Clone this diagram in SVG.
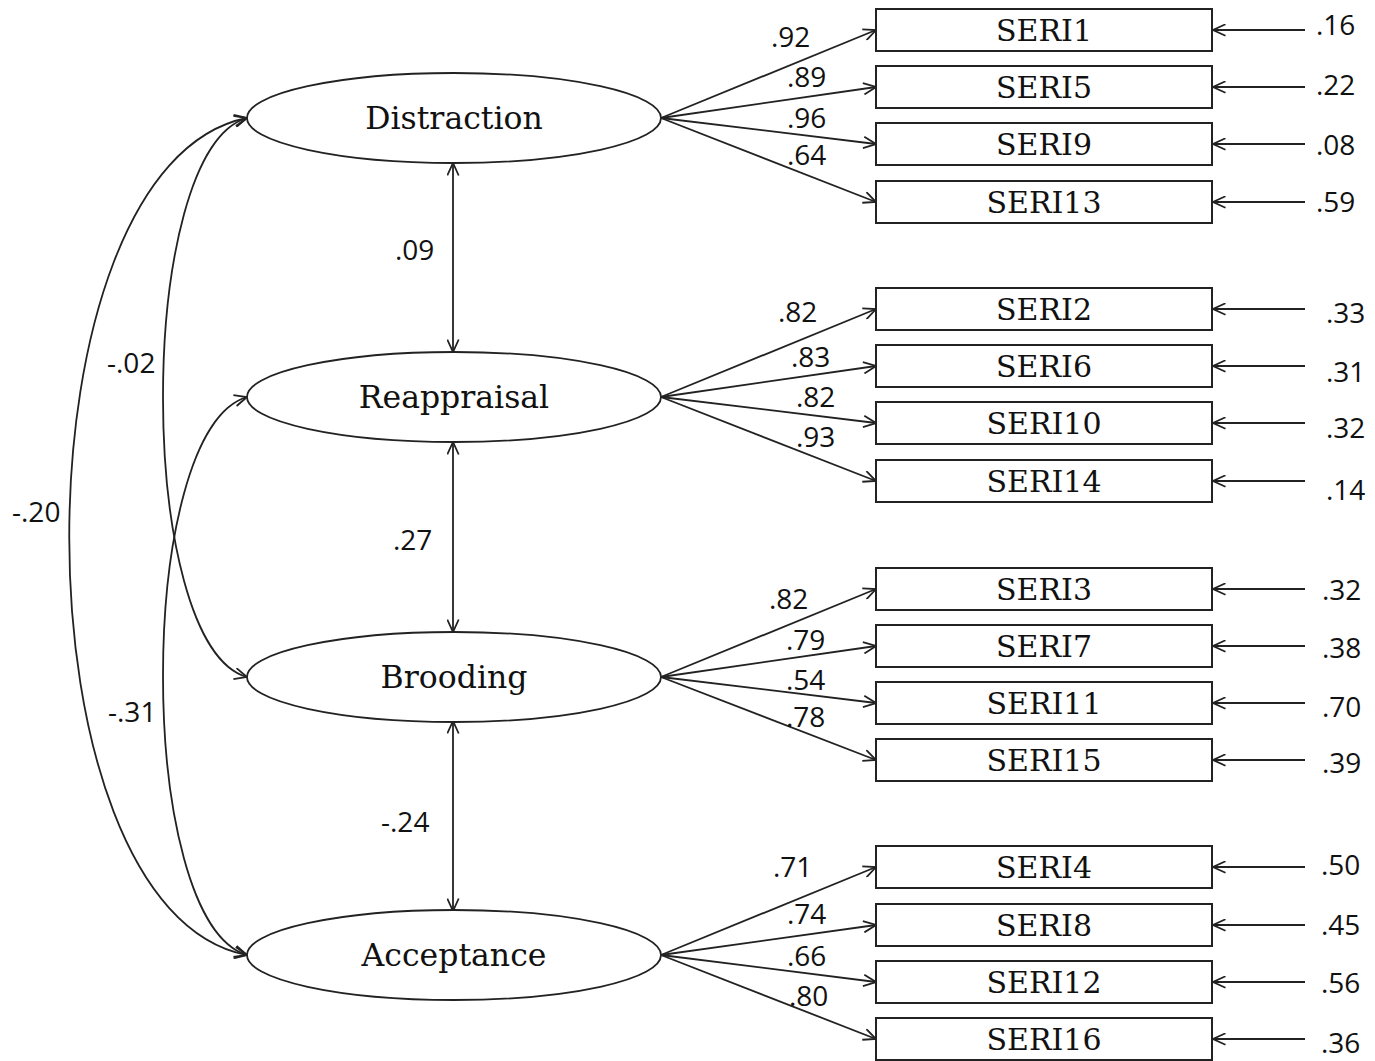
<svg xmlns="http://www.w3.org/2000/svg" width="1375" height="1061" viewBox="0 0 1375 1061">
<style>
  .ln { fill: none; stroke: #222; stroke-width: 1.8; }
  .arr { marker-end: url(#ah); }
  .dbl { marker-start: url(#ah); marker-end: url(#ah); }
  .lat { fill: #fff; stroke: #222; stroke-width: 1.8; }
  .box { fill: #fff; stroke: #222; stroke-width: 2; }
  .lname { font-family: "DejaVu Serif", "Liberation Serif", serif; font-size: 31.5px; fill: #111; text-anchor: middle; }
  .bname { font-family: "DejaVu Serif", "Liberation Serif", serif; font-size: 30px; fill: #111; text-anchor: middle; }
  .num { font-family: "Open Sans", "Liberation Sans", sans-serif; font-size: 28px; fill: #111; }
</style>
<defs>
  <marker id="ah" viewBox="0 0 14 13" refX="13.5" refY="6.5" markerWidth="14" markerHeight="13" markerUnits="userSpaceOnUse" orient="auto-start-reverse">
    <path d="M1,0.8 L13.5,6.5 L1,12.2" fill="none" stroke="#222" stroke-width="1.8"/>
  </marker>
</defs>
<rect width="1375" height="1061" fill="#fff"/>

<g id="connectors">
  <path class="ln dbl" d="M247,118 C135,150 135,645 247,677"/>
  <path class="ln dbl" d="M247,118 C10,165 10,910 247,955"/>
  <path class="ln dbl" d="M247,397 C135,430 135,922 247,955"/>
  <line class="ln dbl" x1="453" y1="163" x2="453" y2="352"/>
  <line class="ln dbl" x1="453" y1="442" x2="453" y2="632"/>
  <line class="ln dbl" x1="453" y1="721" x2="453" y2="911"/>
  <line class="ln arr" x1="661" y1="118" x2="876" y2="30"/>
  <line class="ln arr" x1="661" y1="118" x2="876" y2="87"/>
  <line class="ln arr" x1="661" y1="118" x2="876" y2="144"/>
  <line class="ln arr" x1="661" y1="118" x2="876" y2="202"/>
  <line class="ln arr" x1="661" y1="397" x2="876" y2="309"/>
  <line class="ln arr" x1="661" y1="397" x2="876" y2="366"/>
  <line class="ln arr" x1="661" y1="397" x2="876" y2="423"/>
  <line class="ln arr" x1="661" y1="397" x2="876" y2="481"/>
  <line class="ln arr" x1="661" y1="677" x2="876" y2="589"/>
  <line class="ln arr" x1="661" y1="677" x2="876" y2="646"/>
  <line class="ln arr" x1="661" y1="677" x2="876" y2="703"/>
  <line class="ln arr" x1="661" y1="677" x2="876" y2="760"/>
  <line class="ln arr" x1="661" y1="955" x2="876" y2="867"/>
  <line class="ln arr" x1="661" y1="955" x2="876" y2="925"/>
  <line class="ln arr" x1="661" y1="955" x2="876" y2="982"/>
  <line class="ln arr" x1="661" y1="955" x2="876" y2="1039"/>
  <line class="ln arr" x1="1305" y1="30" x2="1213" y2="30"/>
  <line class="ln arr" x1="1305" y1="87" x2="1213" y2="87"/>
  <line class="ln arr" x1="1305" y1="144" x2="1213" y2="144"/>
  <line class="ln arr" x1="1305" y1="202" x2="1213" y2="202"/>
  <line class="ln arr" x1="1305" y1="309" x2="1213" y2="309"/>
  <line class="ln arr" x1="1305" y1="366" x2="1213" y2="366"/>
  <line class="ln arr" x1="1305" y1="423" x2="1213" y2="423"/>
  <line class="ln arr" x1="1305" y1="481" x2="1213" y2="481"/>
  <line class="ln arr" x1="1305" y1="589" x2="1213" y2="589"/>
  <line class="ln arr" x1="1305" y1="646" x2="1213" y2="646"/>
  <line class="ln arr" x1="1305" y1="703" x2="1213" y2="703"/>
  <line class="ln arr" x1="1305" y1="760" x2="1213" y2="760"/>
  <line class="ln arr" x1="1305" y1="867" x2="1213" y2="867"/>
  <line class="ln arr" x1="1305" y1="925" x2="1213" y2="925"/>
  <line class="ln arr" x1="1305" y1="982" x2="1213" y2="982"/>
  <line class="ln arr" x1="1305" y1="1039" x2="1213" y2="1039"/>
</g>

<g id="connector-labels">
  <text class="num" x="107" y="373">-.02</text>
  <text class="num" x="12" y="522">-.20</text>
  <text class="num" x="108" y="722">-.31</text>
  <text class="num" x="395" y="260">.09</text>
  <text class="num" x="393" y="550">.27</text>
  <text class="num" x="381" y="832">-.24</text>

  <text class="num" x="771" y="47">.92</text>
  <text class="num" x="787" y="87">.89</text>
  <text class="num" x="787" y="128">.96</text>
  <text class="num" x="787" y="165">.64</text>
  <text class="num" x="778" y="322">.82</text>
  <text class="num" x="791" y="367">.83</text>
  <text class="num" x="796" y="407">.82</text>
  <text class="num" x="796" y="447">.93</text>
  <text class="num" x="769" y="609">.82</text>
  <text class="num" x="786" y="650">.79</text>
  <text class="num" x="786" y="690">.54</text>
  <text class="num" x="786" y="727">.78</text>
  <text class="num" x="773" y="877">.71</text>
  <text class="num" x="787" y="924">.74</text>
  <text class="num" x="787" y="966">.66</text>
  <text class="num" x="789" y="1006">.80</text>

  <text class="num" x="1316" y="35">.16</text>
  <text class="num" x="1316" y="95">.22</text>
  <text class="num" x="1316" y="155">.08</text>
  <text class="num" x="1316" y="212">.59</text>
  <text class="num" x="1326" y="323">.33</text>
  <text class="num" x="1326" y="382">.31</text>
  <text class="num" x="1326" y="438">.32</text>
  <text class="num" x="1326" y="500">.14</text>
  <text class="num" x="1322" y="600">.32</text>
  <text class="num" x="1322" y="658">.38</text>
  <text class="num" x="1322" y="717">.70</text>
  <text class="num" x="1322" y="773">.39</text>
  <text class="num" x="1321" y="875">.50</text>
  <text class="num" x="1321" y="935">.45</text>
  <text class="num" x="1321" y="993">.56</text>
  <text class="num" x="1321" y="1053">.36</text>
</g>

<g id="distraction"><ellipse class="lat" cx="454" cy="118" rx="207" ry="45"/><text class="lname" x="454" y="129">Distraction</text></g>
<g id="reappraisal"><ellipse class="lat" cx="454" cy="397" rx="207" ry="45"/><text class="lname" x="454" y="408">Reappraisal</text></g>
<g id="brooding"><ellipse class="lat" cx="454" cy="677" rx="207" ry="45"/><text class="lname" x="454" y="688">Brooding</text></g>
<g id="acceptance"><ellipse class="lat" cx="454" cy="955" rx="207" ry="45"/><text class="lname" x="454" y="966">Acceptance</text></g>

<g id="seri1"><rect class="box" x="876" y="9" width="336" height="42"/><text class="bname" x="1044" y="41">SERI1</text></g>
<g id="seri5"><rect class="box" x="876" y="66" width="336" height="42"/><text class="bname" x="1044" y="98">SERI5</text></g>
<g id="seri9"><rect class="box" x="876" y="123" width="336" height="42"/><text class="bname" x="1044" y="155">SERI9</text></g>
<g id="seri13"><rect class="box" x="876" y="181" width="336" height="42"/><text class="bname" x="1044" y="213">SERI13</text></g>

<g id="seri2"><rect class="box" x="876" y="288" width="336" height="42"/><text class="bname" x="1044" y="320">SERI2</text></g>
<g id="seri6"><rect class="box" x="876" y="345" width="336" height="42"/><text class="bname" x="1044" y="377">SERI6</text></g>
<g id="seri10"><rect class="box" x="876" y="402" width="336" height="42"/><text class="bname" x="1044" y="434">SERI10</text></g>
<g id="seri14"><rect class="box" x="876" y="460" width="336" height="42"/><text class="bname" x="1044" y="492">SERI14</text></g>

<g id="seri3"><rect class="box" x="876" y="568" width="336" height="42"/><text class="bname" x="1044" y="600">SERI3</text></g>
<g id="seri7"><rect class="box" x="876" y="625" width="336" height="42"/><text class="bname" x="1044" y="657">SERI7</text></g>
<g id="seri11"><rect class="box" x="876" y="682" width="336" height="42"/><text class="bname" x="1044" y="714">SERI11</text></g>
<g id="seri15"><rect class="box" x="876" y="739" width="336" height="42"/><text class="bname" x="1044" y="771">SERI15</text></g>

<g id="seri4"><rect class="box" x="876" y="846" width="336" height="42"/><text class="bname" x="1044" y="878">SERI4</text></g>
<g id="seri8"><rect class="box" x="876" y="904" width="336" height="42"/><text class="bname" x="1044" y="936">SERI8</text></g>
<g id="seri12"><rect class="box" x="876" y="961" width="336" height="42"/><text class="bname" x="1044" y="993">SERI12</text></g>
<g id="seri16"><rect class="box" x="876" y="1018" width="336" height="42"/><text class="bname" x="1044" y="1050">SERI16</text></g>
</svg>
